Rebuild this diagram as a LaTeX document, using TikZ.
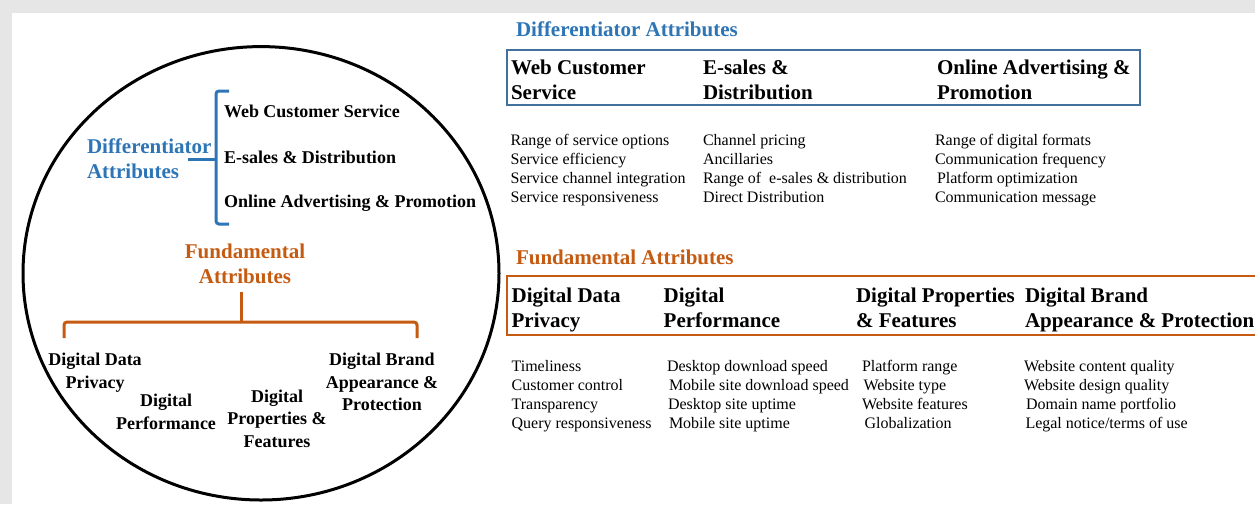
\documentclass[tikz,border=0pt]{standalone}
\usepackage{fontspec}
\setmainfont{Liberation Serif}

\definecolor{pagegray}{HTML}{E6E6E6}
\definecolor{diffblue}{HTML}{2E75B6}
\definecolor{boxblue}{HTML}{41719C}
\definecolor{fundorange}{HTML}{C55A11}

\begin{document}
\begin{tikzpicture}[x=1pt, y=-1pt,
  every node/.style={inner sep=0pt, outer sep=0pt},
  % multi-line nodes are placed by the baseline of their last line
  ringitem/.style={font=\fontsize{18}{23}\selectfont\bfseries, anchor=base west},
  ringlabel/.style={font=\fontsize{18}{22.5}\selectfont\bfseries, align=center, anchor=base},
  ringhead/.style={font=\fontsize{21}{25}\selectfont\bfseries, text=#1},
  heading/.style={font=\fontsize{21}{25}\selectfont\bfseries, anchor=base west, text=#1},
  boxtitle/.style={font=\fontsize{21}{25}\selectfont\bfseries, align=left, anchor=base west},
  listtext/.style={font=\fontsize{16}{19.3}\selectfont, align=left, anchor=base west},
  bracket/.style={draw=#1, line width=3pt, rounded corners=3pt},
  framebox/.style={draw=#1, line width=2.5pt}
]
\useasboundingbox (0,0) rectangle (1255,504);
\clip (0,0) rectangle (1255,504);

% page background
\fill[pagegray] (0,0) rectangle (1255,504);
\fill[white] (12,13) rectangle (1255,504);

% ---------------- circle overview ----------------
\draw[line width=3pt] (261,273.3) ellipse [x radius=238, y radius=226.7];

% differentiator attributes
\node[ringhead=diffblue, anchor=base west, align=left] (diffring) at (87,178.3) {Differentiator\\Attributes};
\node[ringitem] (wcs) at (224,117.3) {Web Customer Service};
\node[ringitem] (esd) at (224,163) {E-sales \& Distribution};
\node[ringitem] (oap) at (224,207.7) {Online Advertising \& Promotion};

\coordinate (bt) at (229,91);
\coordinate (bb) at (229,224);
\coordinate (bn) at (188,159);
\draw[bracket=diffblue] (bt) -- (216,91) -- (216,224) -- (bb);
\draw[bracket=diffblue] (bn) -- (216,159);

% fundamental attributes
\node[ringhead=fundorange, anchor=base, align=center] (fundring) at (245,283.3) {Fundamental\\Attributes};

\coordinate (fs) at (241,292);
\coordinate (fl) at (64,338);
\coordinate (fr) at (417,338);
\draw[bracket=fundorange] (fl) -- (64,322) -- (417,322) -- (fr);
\draw[bracket=fundorange] (fs) -- (241,322);

\node[ringlabel] (ddp) at (95,388.3) {Digital Data\\Privacy};
\node[ringlabel] (dp)  at (166,429) {Digital\\Performance};
\node[ringlabel] (dpf) at (277,447.3) {Digital\\Properties \&\\Features};
\node[ringlabel] (dba) at (382,410.7) {Digital Brand\\Appearance \&\\Protection};

% ---------------- differentiator table ----------------
\node[heading=diffblue] (diffhead) at (516,36) {Differentiator Attributes};
\draw[framebox=boxblue] (507,50) rectangle (1140,105);

\node[boxtitle] (t1) at (511,99) {Web Customer\\Service};
\node[boxtitle] (t2) at (703,99) {E-sales \&\\Distribution};
\node[boxtitle] (t3) at (937,99) {Online Advertising \&\\Promotion};

\node[listtext] (l1) at (510.6,202.9) {Range of service options\\Service efficiency\\Service channel integration\\Service responsiveness};
\node[listtext] (l2) at (703,202.9) {Channel pricing\\Ancillaries\\Range of\ \ e-sales \& distribution\\Direct Distribution};
\node[listtext] (l3) at (935,202.9) {Range of digital formats\\Communication frequency\\\hspace{2pt}Platform optimization\\Communication message};

% ---------------- fundamental table ----------------
\node[heading=fundorange] (fundhead) at (516,264) {Fundamental Attributes};
\draw[framebox=fundorange] (507,276) rectangle (1270,335);

\node[boxtitle] (f1) at (511.6,327.7) {Digital Data\\Privacy};
\node[boxtitle] (f2) at (663.7,327.7) {Digital\\Performance};
\node[boxtitle] (f3) at (856,327.7) {Digital Properties\\\& Features};
\node[boxtitle] (f4) at (1025,327.7) {Digital Brand\\Appearance \& Protection};

\node[listtext] (m1) at (511.6,428.9) {Timeliness\\Customer control\\Transparency\\Query responsiveness};
\node[listtext] (m2) at (667,428.9) {Desktop download speed\\\hspace{2pt}Mobile site download speed\\\hspace{1pt}Desktop site uptime\\\hspace{2pt}Mobile site uptime};
\node[listtext] (m3) at (862,428.9) {Platform range\\\hspace{1.5pt}Website type\\Website features\\\hspace{2.5pt}Globalization};
\node[listtext] (m4) at (1024,428.9) {Website content quality\\Website design quality\\\hspace{2pt}Domain name portfolio\\\hspace{1.5pt}Legal notice/terms of use};
\end{tikzpicture}
\end{document}
